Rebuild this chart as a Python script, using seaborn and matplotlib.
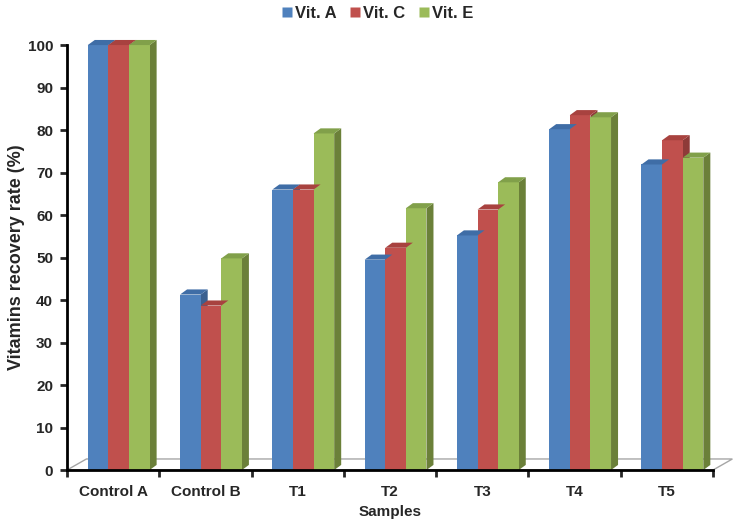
import matplotlib
matplotlib.use("Agg")
import matplotlib.pyplot as plt
from matplotlib.patches import Polygon
from matplotlib.lines import Line2D
import seaborn as sns
import pandas as pd
import numpy as np

samples = ["Control A", "Control B", "T1", "T2", "T3", "T4", "T5"]
vitamins = ["Vit. A", "Vit. C", "Vit. E"]
vit_a = [100, 41.3, 66.0, 49.5, 55.2, 80.2, 71.9]
vit_c = [100, 38.7, 66.0, 52.3, 61.3, 83.5, 77.6]
vit_e = [100, 49.8, 79.2, 61.6, 67.7, 83.0, 73.5]
yticks = list(range(0, 101, 10))

front_cols = ["#4F81BD", "#C0504D", "#9BBB59"]
side_cols = ["#3A6090", "#8E3A38", "#6B8039"]
top_cols = ["#3F6DA6", "#A8423F", "#81A04A"]

df = pd.DataFrame({
    "Samples": samples * 3,
    "Vitamin": [v for v in vitamins for _ in samples],
    "Rate": vit_a + vit_c + vit_e,
})

sns.set_style("white")
plt.rcParams["font.family"] = ["Liberation Sans", "DejaVu Sans"]

fig = plt.figure(figsize=(7.34, 5.24), dpi=100)
ax = fig.add_axes([0.0913, 0.103, 0.8801, 0.811])

sns.barplot(data=df, x="Samples", y="Rate", hue="Vitamin", order=samples,
            hue_order=vitamins, palette=front_cols, width=0.67, errorbar=None,
            saturation=1, ax=ax, legend=False, zorder=3)

ax.set_xlim(-0.5, 6.5)
ax.set_ylim(0, 100)

# pseudo 3D depth (data units)
dx, dy = 0.076, 1.2
shift = 0.06

# floor
fdx, fdy = 0.21, 2.6
floor = Polygon([(-0.5, 0), (-0.5 + fdx, fdy), (6.5 + fdx, fdy), (6.5, 0)],
                closed=True, facecolor="white", edgecolor="#A6A6A6", lw=1,
                clip_on=False, zorder=1)
ax.add_patch(floor)

for ci, cont in enumerate(ax.containers):
    for bar in cont:
        bar.set_x(bar.get_x() + shift)
        bar.set_edgecolor("none")
        x0, w, h = bar.get_x(), bar.get_width(), bar.get_height()
        x1 = x0 + w
        top = Polygon([(x0, h), (x0 + dx, h + dy), (x1 + dx, h + dy), (x1, h)],
                      closed=True, facecolor=top_cols[ci], edgecolor="none",
                      clip_on=False, zorder=3)
        side = Polygon([(x1, 0), (x1 + dx, dy), (x1 + dx, h + dy), (x1, h)],
                       closed=True, facecolor=side_cols[ci], edgecolor="none",
                       clip_on=False, zorder=2.9)
        ax.add_patch(top)
        ax.add_patch(side)

# axes styling
for s in ["top", "right"]:
    ax.spines[s].set_visible(False)
for s in ["left", "bottom"]:
    ax.spines[s].set_linewidth(2)
    ax.spines[s].set_color("black")
    ax.spines[s].set_zorder(5)

ax.set_yticks(yticks)
ax.tick_params(axis="y", which="major", direction="out", length=5, width=2,
               left=True, labelsize=11, pad=5)
ax.set_xticks(range(len(samples)))
ax.set_xticklabels(samples)
ax.set_xticks(np.arange(-0.5, 7, 1), minor=True)
ax.tick_params(axis="x", which="major", length=0, labelsize=11, pad=11)
ax.tick_params(axis="x", which="minor", direction="out", length=5, width=2,
               bottom=True)
for lab in ax.get_xticklabels() + ax.get_yticklabels():
    lab.set_fontweight("bold")

ax.set_xlabel("Samples", fontsize=11, fontweight="bold", labelpad=4)
ax.set_ylabel("Vitamins recovery rate (%)", fontsize=13, fontweight="bold",
              labelpad=2)

handles = [Line2D([], [], marker="s", linestyle="none", markersize=7,
                  markerfacecolor=c, markeredgecolor="none") for c in front_cols]
fig.legend(handles, vitamins, loc="upper center", bbox_to_anchor=(0.512, 1.018),
           ncol=3, frameon=False, handletextpad=0.0, columnspacing=0.6,
           handlelength=1.0,
           prop={"family": ["Liberation Sans Narrow", "Liberation Sans"],
                 "weight": "bold", "size": 12})

fig.savefig("out.png", dpi=100)
